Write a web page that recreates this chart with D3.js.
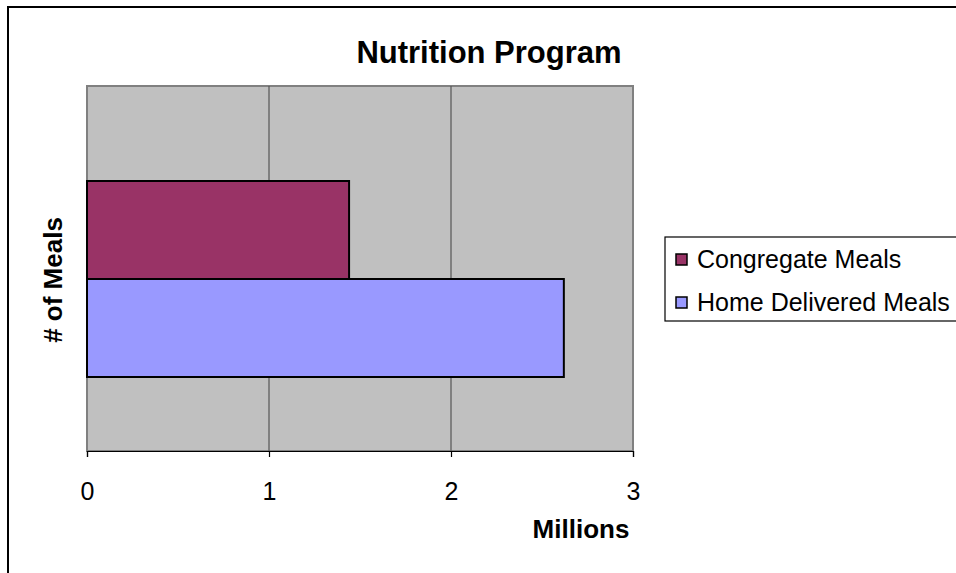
<!DOCTYPE html>
<html>
<head>
<meta charset="utf-8">
<script src="https://cdn.jsdelivr.net/npm/d3@7/dist/d3.min.js"></script>
<style>
  html, body { margin: 0; padding: 0; background: #fff; }
  svg { display: block; }
  text { font-family: "Liberation Sans", Arial, sans-serif; fill: #000; }
</style>
</head>
<body>
<svg id="chart" width="956" height="573"></svg>
<script>
const categories = ["Meals"];
const seriesNames = ["Congregate Meals", "Home Delivered Meals"];
const congregateValues = [1.44];
const homeDeliveredValues = [2.62];
const xTicks = [0, 1, 2, 3];
const colors = ["#993366", "#9999FF"];
const titleText = "Nutrition Program";
const xAxisTitle = "Millions";
const yAxisTitle = "# of Meals";

const svg = d3.select("#chart");
const plot = { left: 87, right: 633, top: 86, bottom: 451 };

// outer frame (extends beyond the viewport on right/bottom)
svg.append("rect").attr("x", 8).attr("y", 7).attr("width", 960).attr("height", 600)
  .attr("fill", "#fff").attr("stroke", "#000").attr("stroke-width", 2);

const x = d3.scaleLinear().domain([0, 3]).range([plot.left, plot.right]);
const y = d3.scaleBand().domain(categories).range([181, 377]).padding(0);
const ySub = d3.scaleBand().domain(seriesNames).range([0, y.bandwidth()]).padding(0);

// plot background
svg.append("rect").attr("x", plot.left).attr("y", plot.top)
  .attr("width", plot.right - plot.left).attr("height", plot.bottom - plot.top)
  .attr("fill", "#C0C0C0").attr("stroke", "#808080").attr("stroke-width", 2);

// gridlines
svg.append("g").selectAll("line").data(xTicks.filter(d => d > 0 && d < 3)).join("line")
  .attr("x1", d => x(d)).attr("x2", d => x(d))
  .attr("y1", plot.top).attr("y2", plot.bottom)
  .attr("stroke", "#555").attr("stroke-width", 1.2);

// bars
const data = [];
categories.forEach((c, i) => {
  data.push({ cat: c, series: seriesNames[0], value: congregateValues[i], color: colors[0] });
  data.push({ cat: c, series: seriesNames[1], value: homeDeliveredValues[i], color: colors[1] });
});
svg.append("g").selectAll("rect").data(data).join("rect")
  .attr("x", x(0))
  .attr("y", d => y(d.cat) + ySub(d.series))
  .attr("width", d => x(d.value) - x(0))
  .attr("height", ySub.bandwidth())
  .attr("fill", d => d.color)
  .attr("stroke", "#000").attr("stroke-width", 2);

// x axis
const xAxis = d3.axisBottom(x).tickValues(xTicks).tickFormat(d3.format("d")).tickSize(6).tickPadding(25);
const gx = svg.append("g").attr("transform", `translate(0,${plot.bottom})`).call(xAxis);
gx.select(".domain").attr("stroke", "#000").attr("stroke-width", 1.2);
gx.selectAll(".tick line").attr("stroke", "#000").attr("stroke-width", 1.2);
gx.selectAll(".tick text").attr("font-size", 25).attr("font-family", "Liberation Sans, Arial, sans-serif").attr("fill", "#000");

// titles
svg.append("text").attr("x", 489).attr("y", 63).attr("text-anchor", "middle")
  .attr("font-size", 31).attr("font-weight", "bold").text(titleText);
svg.append("text").attr("x", 581).attr("y", 538).attr("text-anchor", "middle")
  .attr("font-size", 26).attr("font-weight", "bold").text(xAxisTitle);
svg.append("text").attr("transform", `translate(62,280) rotate(-90)`).attr("text-anchor", "middle")
  .attr("font-size", 26).attr("font-weight", "bold").text(yAxisTitle);

// legend
const lg = svg.append("g");
lg.append("rect").attr("x", 665).attr("y", 237).attr("width", 320).attr("height", 84)
  .attr("fill", "#fff").attr("stroke", "#000").attr("stroke-width", 1.2);
const rows = lg.selectAll("g.row").data(seriesNames).join("g").attr("class", "row")
  .attr("transform", (d, i) => `translate(0,${259 + i * 43})`);
rows.append("rect").attr("x", 676).attr("y", -5).attr("width", 11).attr("height", 11)
  .attr("fill", (d, i) => colors[i]).attr("stroke", "#000").attr("stroke-width", 1.5);
rows.append("text").attr("x", 697).attr("y", 9).attr("font-size", 25).text(d => d);
</script>
</body>
</html>
